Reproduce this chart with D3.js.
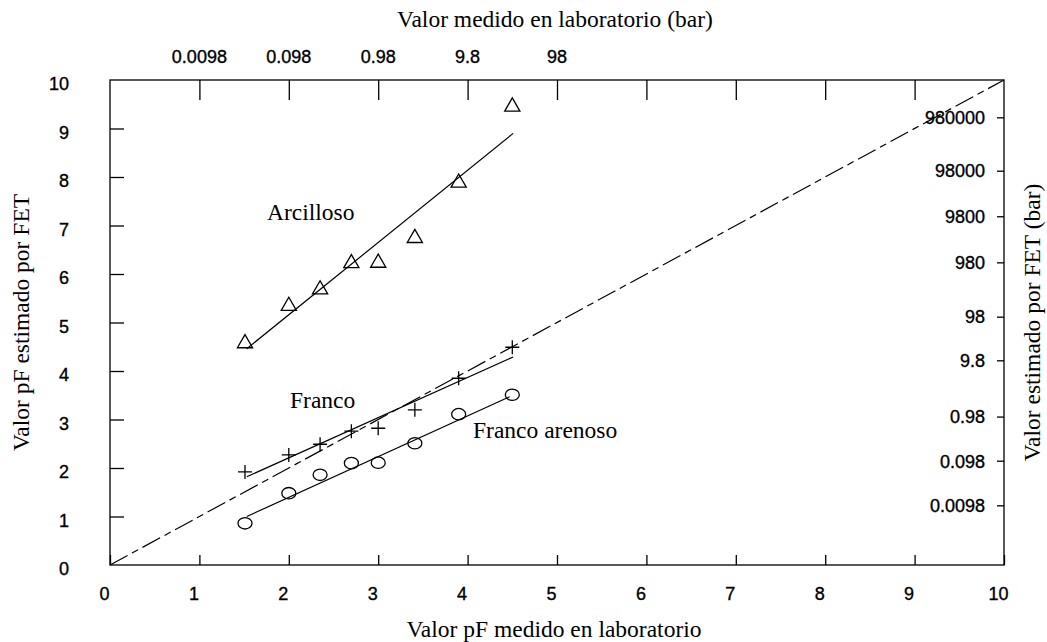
<!DOCTYPE html>
<html>
<head>
<meta charset="utf-8">
<script src="https://cdn.jsdelivr.net/npm/d3@7"></script>
<style>
  body { margin: 0; background: #fff; }
  .num { font-family: "Liberation Sans", Arial, sans-serif; font-size: 18px; fill: #000; stroke: #000; stroke-width: 0.35px; }
  .ser { font-family: "Liberation Serif", "Times New Roman", serif; font-size: 23.5px; fill: #000; }
</style>
</head>
<body>
<svg width="1047" height="642"></svg>
<script>
// measured pF (shared by all three soils)
const pfLab = [1.51, 2.0, 2.35, 2.7, 3.0, 3.41, 3.9, 4.5];
// pF estimated by FET
const arcilloso = [4.57, 5.34, 5.68, 6.22, 6.23, 6.74, 7.88, 9.45];
const franco = [1.92, 2.27, 2.49, 2.76, 2.82, 3.20, 3.85, 4.49];
const francoArenoso = [0.86, 1.48, 1.86, 2.10, 2.11, 2.51, 3.11, 3.51];
// fitted lines [x1, y1, x2, y2]
const fitArcilloso = [1.53, 4.46, 4.51, 8.90];
const fitFranco = [1.53, 1.82, 4.51, 4.29];
const fitArenoso = [1.53, 1.00, 4.47, 3.47];

const pfTicks = [0, 1, 2, 3, 4, 5, 6, 7, 8, 9, 10];
const topTicks = [1, 2, 3, 4, 5, 6, 7, 8, 9];
const topLabels = ["0.0098", "0.098", "0.98", "9.8", "98"];
// right axis ticks sit at these pF heights
const rightTicks = [1.22, 2.14, 3.05, 4.21, 5.11, 6.23, 7.18, 8.12, 9.22];
const rightLabels = ["0.0098", "0.098", "0.98", "9.8", "98", "980", "9800", "98000", "980000"];

const margin = {left: 110, right: 1004, top: 80, bottom: 565};

const svg = d3.select("svg");

const x = d3.scaleLinear().domain([0, 10]).range([margin.left, margin.right]);
const y = d3.scaleLinear().domain([0, 10]).range([margin.bottom, margin.top]);

// frame
svg.append("rect")
    .attr("x", margin.left).attr("y", margin.top)
    .attr("width", margin.right - margin.left).attr("height", margin.bottom - margin.top)
    .attr("fill", "none").attr("stroke", "#000").attr("stroke-width", 1.3);

// bottom axis (ticks inward)
const gB = svg.append("g").attr("transform", "translate(0," + margin.bottom + ")")
    .call(d3.axisBottom(x).tickValues(pfTicks).tickSizeInner(-10).tickSizeOuter(0).tickFormat(d3.format("d")));
gB.select(".domain").remove();
gB.selectAll("line").attr("stroke-width", 1.3);
gB.selectAll("text").attr("class", "num").attr("y", 35).attr("dy", 0).attr("dx", -6);

// left axis
const gL = svg.append("g").attr("transform", "translate(" + margin.left + ",0)")
    .call(d3.axisLeft(y).tickValues(pfTicks).tickSizeInner(-14).tickSizeOuter(0).tickFormat(d3.format("d")));
gL.select(".domain").remove();
gL.selectAll("line").attr("stroke-width", 1.3).filter(d => d === 0 || d === 10).remove();
gL.selectAll("text").attr("class", "num").attr("x", -41).attr("dy", "0.55em").attr("text-anchor", "end");

// top axis (bar)
const gT = svg.append("g").attr("transform", "translate(0," + margin.top + ")")
    .call(d3.axisTop(x).tickValues(topTicks).tickSizeInner(-20).tickSizeOuter(0).tickFormat(""));
gT.select(".domain").remove();
gT.selectAll("line").attr("stroke-width", 1.3);
svg.append("g").selectAll("text")
    .data(topLabels)
    .enter()
    .append("text")
    .attr("class", "num")
    .attr("x", (d, i) => x(i + 1))
    .attr("y", 63)
    .attr("text-anchor", "middle")
    .text(d => d);

// right axis (bar)
const gR = svg.append("g")
    .selectAll("g")
    .data(rightTicks)
    .enter()
    .append("g")
    .attr("transform", d => "translate(" + margin.right + "," + y(d) + ")");
gR.append("line").attr("x1", -7).attr("x2", 0).attr("stroke", "#000").attr("stroke-width", 1.3);
gR.append("text")
    .attr("class", "num")
    .attr("x", -19)
    .attr("dy", "0.35em")
    .attr("text-anchor", "end")
    .text((d, i) => rightLabels[i]);

// 1:1 line
svg.append("line")
    .attr("x1", x(0)).attr("y1", y(0)).attr("x2", x(10)).attr("y2", y(10))
    .attr("stroke", "#000").attr("stroke-width", 1.2)
    .attr("stroke-dasharray", "20,5,7,5");

// fitted lines
[fitArcilloso, fitFranco, fitArenoso].forEach(f => {
    svg.append("line")
        .attr("x1", x(f[0])).attr("y1", y(f[1]))
        .attr("x2", x(f[2])).attr("y2", y(f[3]))
        .attr("stroke", "#000").attr("stroke-width", 1.2);
});

// triangles
svg.append("g").selectAll("path")
    .data(arcilloso)
    .enter()
    .append("path")
    .attr("d", d3.symbol(d3.symbolTriangle, 100))
    .attr("transform", (d, i) => "translate(" + x(pfLab[i]) + "," + y(d) + ")")
    .attr("fill", "none").attr("stroke", "#000").attr("stroke-width", 1.3);

// crosses
svg.append("g").selectAll("path")
    .data(franco)
    .enter()
    .append("path")
    .attr("d", "M-7,0H7M0,-7V7")
    .attr("transform", (d, i) => "translate(" + x(pfLab[i]) + "," + y(d) + ")")
    .attr("fill", "none").attr("stroke", "#000").attr("stroke-width", 1.3);

// circles
svg.append("g").selectAll("ellipse")
    .data(francoArenoso)
    .enter()
    .append("ellipse")
    .attr("cx", (d, i) => x(pfLab[i]))
    .attr("cy", d => y(d))
    .attr("rx", 7).attr("ry", 5.7)
    .attr("fill", "none").attr("stroke", "#000").attr("stroke-width", 1.3);

// annotations
svg.append("text").attr("class", "ser").attr("x", 267).attr("y", 220).text("Arcilloso");
svg.append("text").attr("class", "ser").attr("x", 290).attr("y", 408).text("Franco");
svg.append("text").attr("class", "ser").attr("x", 473).attr("y", 438).text("Franco arenoso");

// axis titles
svg.append("text").attr("class", "ser").attr("x", 555).attr("y", 27)
    .attr("text-anchor", "middle").text("Valor medido en laboratorio (bar)");
svg.append("text").attr("class", "ser").attr("x", 554).attr("y", 637)
    .attr("text-anchor", "middle").text("Valor pF medido en laboratorio");
svg.append("text").attr("class", "ser")
    .attr("transform", "translate(29," + (margin.top + margin.bottom) / 2 + ") rotate(-90)")
    .attr("text-anchor", "middle").text("Valor pF estimado por FET");
svg.append("text").attr("class", "ser")
    .attr("transform", "translate(1040," + (margin.top + margin.bottom) / 2 + ") rotate(-90)")
    .attr("text-anchor", "middle").text("Valor estimado por FET (bar)");
</script>
</body>
</html>
